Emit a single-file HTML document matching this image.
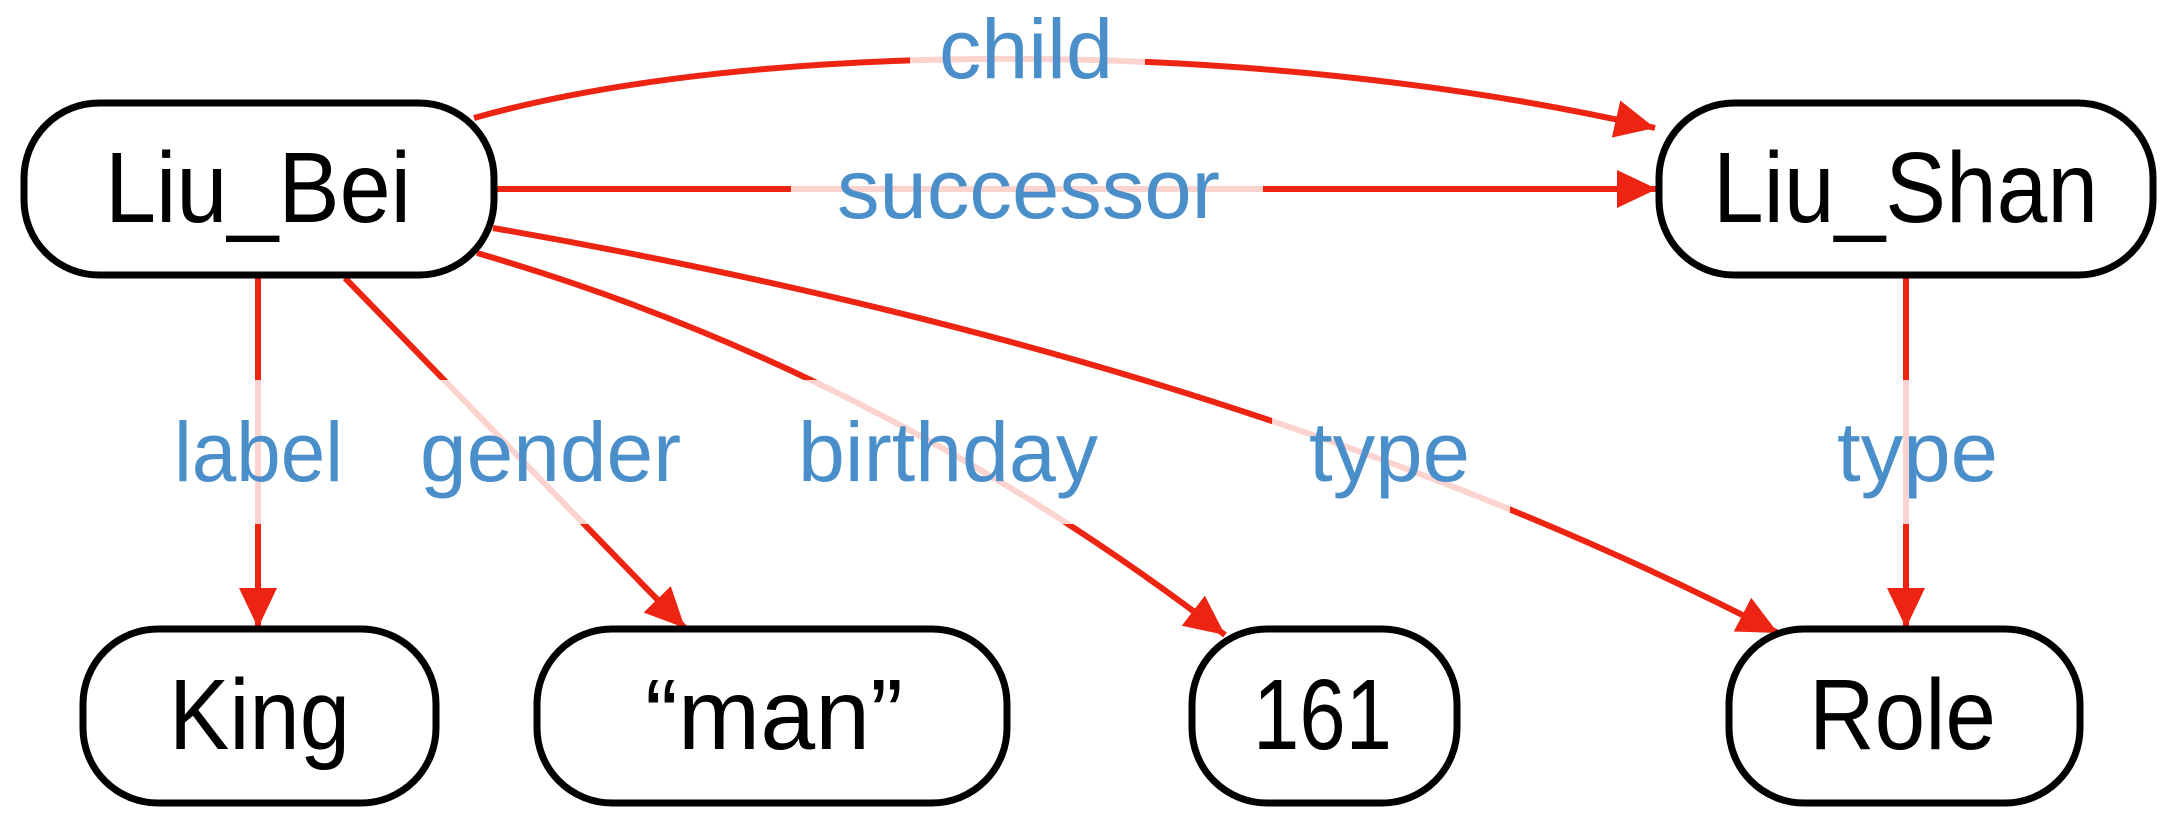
<!DOCTYPE html>
<html><head><meta charset="utf-8"><style>html,body{margin:0;padding:0;background:#fff}svg{display:block}</style></head>
<body>
<svg width="2170" height="826" viewBox="0 0 2170 826" xmlns="http://www.w3.org/2000/svg">
<defs>
<marker id="a" markerUnits="userSpaceOnUse" markerWidth="44" markerHeight="40" refX="40" refY="19" orient="auto">
<path d="M0,0 L40,19 L0,38 z" fill="#ec2411"/>
</marker>
</defs>
<g fill="none" stroke="#ec2411" stroke-width="6">
<path d="M474,118 C750,40 1250,35 1655,128" marker-end="url(#a)"/>
<path d="M494,189 L1657,189" marker-end="url(#a)"/>
<path d="M258,277 L258,628" marker-end="url(#a)"/>
<path d="M345,278 L685,628" marker-end="url(#a)"/>
<path d="M477,253 Q880,370 1225,635" marker-end="url(#a)"/>
<path d="M493,228 Q1250,360 1778,633" marker-end="url(#a)"/>
<path d="M1906,277 L1906,628" marker-end="url(#a)"/>
</g>
<g fill="#fff" fill-opacity="0.8">
<rect x="910" y="20" width="235" height="80"/>
<rect x="791" y="150" width="472" height="85"/>
<rect x="200" y="380" width="120" height="144"/>
<rect x="385" y="380" width="335" height="144"/>
<rect x="762" y="380" width="370" height="144"/>
<rect x="1272" y="380" width="238" height="144"/>
<rect x="1820" y="380" width="200" height="144"/>
</g>
<g fill="#fff" stroke="#000" stroke-width="7">
<rect x="24" y="103" width="470" height="172" rx="75"/>
<rect x="1659" y="103" width="494" height="172" rx="75"/>
<rect x="83" y="629" width="353" height="174" rx="75"/>
<rect x="537" y="629" width="470" height="174" rx="75"/>
<rect x="1192" y="629" width="265" height="174" rx="75"/>
<rect x="1729" y="629" width="351" height="174" rx="75"/>
</g>
<g font-family="Liberation Sans, sans-serif" font-size="100" fill="#000">
<text x="105" y="222" textLength="306" lengthAdjust="spacingAndGlyphs">Liu_Bei</text>
<text x="1713" y="222" textLength="385" lengthAdjust="spacingAndGlyphs">Liu_Shan</text>
<text x="169" y="749" textLength="181" lengthAdjust="spacingAndGlyphs">King</text>
<text x="645" y="749" textLength="258" lengthAdjust="spacingAndGlyphs">“man”</text>
<text x="1253" y="749" textLength="139" lengthAdjust="spacingAndGlyphs">161</text>
<text x="1809" y="749" textLength="187" lengthAdjust="spacingAndGlyphs">Role</text>
</g>
<g font-family="Liberation Sans, sans-serif" font-size="84" fill="#4b8fca">
<text x="939" y="78" textLength="174" lengthAdjust="spacingAndGlyphs">child</text>
<text x="837" y="218" textLength="383" lengthAdjust="spacingAndGlyphs">successor</text>
<text x="174" y="481" textLength="169" lengthAdjust="spacingAndGlyphs">label</text>
<text x="420" y="481" textLength="261" lengthAdjust="spacingAndGlyphs">gender</text>
<text x="798" y="481" textLength="300" lengthAdjust="spacingAndGlyphs">birthday</text>
<text x="1309" y="481" textLength="161" lengthAdjust="spacingAndGlyphs">type</text>
<text x="1837" y="481" textLength="161" lengthAdjust="spacingAndGlyphs">type</text>
</g>
</svg>
</body></html>
